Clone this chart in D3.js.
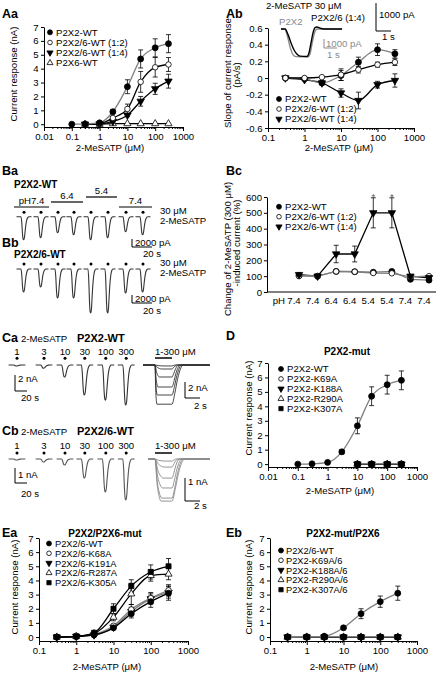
<!DOCTYPE html>
<html><head><meta charset="utf-8">
<script src="https://cdn.jsdelivr.net/npm/d3@7"></script>
<style>
body{margin:0;background:#fff}
svg{display:block}
text{font-family:"Liberation Sans",Arial,sans-serif;font-size:9.6px;fill:#000}
</style></head><body>
<script>
// ================= DATA =================
// --- Aa: concentration-response
const aaXTicks=[0.01,0.1,1,10,100,1000], aaXLabels=["0.01","0.1","1","10","100","1000"];
const aaYTicks=[0,1,2,3,4,5,6,7], aaYLabels=["0","1","2","3","4","5","6","7"];
const aaConcWT=[0.1,0.3,1,3,10,30,100,300];
const aaWT=[0,0.02,0.1,0.9,2.7,4.7,5.5,5.8];
const aaWTErr=[0,0,0.05,0.15,0.5,0.65,0.65,0.65];
const aaConc=[0.3,1,3,10,30,100,300];
const aa12=[0,0.05,0.45,1.1,3.05,4.1,4.3];
const aa12Err=[0,0,0.1,0.35,0.75,0.7,0.5];
const aa14=[0,0.02,0.2,0.65,1.65,2.55,3.1];
const aa14Err=[0,0,0.05,0.1,0.35,0.4,0.5];
const aaX6=[0,0,0.04,0.04,0.04,0.04,0.04];
const aaNames=["P2X2-WT","P2X2/6-WT (1:2)","P2X2/6-WT (1:4)","P2X6-WT"];

// --- Ab: slope of current
const abXTicks=[0.1,1,10,100,1000], abXLabels=["0.1","1","10","100","1000"];
const abYTicks=[-0.6,-0.4,-0.2,0,0.2,0.4,0.6], abYLabels=["-0.6","-0.4","-0.2","0","0.2","0.4","0.6"];
const abConc=[0.3,1,3,10,30,100,300];
const abWT=[0,-0.01,-0.06,0.03,0.19,0.34,0.29];
const abWTErr=[0,0.01,0.02,0.06,0.06,0.07,0.05];
const ab12=[0,0,0.01,0.04,0.1,0.16,0.19];
const ab12Err=[0,0,0,0.07,0.04,0.03,0.04];
const ab14=[0,-0.02,-0.06,-0.18,-0.27,-0.08,-0.03];
const ab14Err=[0,0.01,0.01,0.05,0.1,0.04,0.08];
const abNames=["P2X2-WT","P2X2/6-WT (1:2)","P2X2/6-WT (1:4)"];
// inset traces (time s, fraction of peak)
const insGrayAmp=-3100, insBlackAmp=-1000; // pA
const insGrayShape=[[0,0],[0.3,0],[0.46,0.2],[0.7,0.65],[0.92,0.92],[1.15,0.99],[2.08,1],[2.23,0.9],[2.38,0.55],[2.54,0.2],[2.7,0.02],[2.85,0],[4.7,0]];
const insBlackShape=[[0,0],[0.27,0],[0.47,0.2],[0.67,0.5],[0.87,0.75],[1.07,0.9],[1.27,0.97],[1.73,0.98],[1.87,0.85],[2.0,0.5],[2.13,0.15],[2.27,-0.05],[2.4,-0.07],[2.6,-0.03],[2.87,0],[4.07,0]];

// --- Ba / Bb: traces
const bTimes=[0,17,34,50,67,84,102,119]; // s
const baAmp=[-5750,-5250,-4000,-4500,-5750,-5250,-3750,-4500]; // pA
const bbAmp=[-5750,-4500,-7250,-7250,-11000,-11000,-6000,-5750];
const phLevels=[7.4,6.4,5.4,7.4], phLabels=["pH7.4","6.4","5.4","7.4"];
const phStart=[-10,27,62,95], phEnd=[25,59,93,128];
// normalized single-response waveform (fraction of sweep, fraction of peak)
const pulseShape=[[-0.5,0],[-0.2,0],[-0.15,0.25],[-0.1,0.75],[-0.06,0.97],[-0.02,1],[0.03,0.9],[0.08,0.6],[0.13,0.33],[0.19,0.13],[0.26,0.03],[0.33,0],[0.5,0]];

// --- Bc
const bcPH=["7.4","7.4","6.4","6.4","5.4","5.4","7.4","7.4"];
const bcYTicks=[0,100,200,300,400,500,600];
const bcWT=[105,100,130,128,125,130,80,75];
const bc12=[100,100,130,128,120,118,95,100];
const bc14=[110,100,240,240,500,500,100,90];
const bc14Err=[10,5,55,50,95,95,10,10];
const bcSig=["","","","","*","*","",""];

// --- Ca / Cb
const cConcLabels=["1","3","10","30","100","300"];
const cTimes=[0,45,80,113,148,182]; // s
const caAmp=[-0.12,-0.4,-1.5,-3.75,-4.4,-5.0]; // nA
const cbAmp=[-0.07,-0.2,-0.4,-1.27,-2.2,-2.73];
const caOvAmp=[-0.12,-0.5,-1.5,-2.75,-3.75,-4.9];
const caOvRise=[1.2,0.9,0.6,0.4,0.3,0.25], caOvOff=[0.5,0.7,0.9,1.1,1.3,1.5];
const cbOvAmp=[-0.09,-0.35,-0.83,-1.26,-1.7,-1.83];
const cbOvRise=[1.3,1.2,1.1,1.0,0.9,0.8], cbOvOff=[0.6,0.8,1.0,1.3,1.5,1.7];

// --- D
const dConc=[0.1,0.3,1,3,10,30,100,300];
const dWT=[0,0.02,0.12,0.85,2.65,4.7,5.5,5.8];
const dWTErr=[0,0,0.03,0.15,0.55,0.65,0.65,0.65];
const dMutConc=[10,30,100,300];
const dK69A=[0,0,0,0], dK188A=[0,0,0,0], dR290A=[0,0,0,0], dK307A=[0,0,0,0];
const dNames=["P2X2-WT","P2X2-K69A","P2X2-K188A","P2X2-R290A","P2X2-K307A"];

// --- Ea
const eXTicks=[0.1,1,10,100,1000], eXLabels=["0.1","1","10","100","1000"];
const eConc=[0.3,1,3,10,30,100,300];
const eaWT=[0,0.03,0.15,0.65,1.65,2.5,3.1], eaWTErr=[0,0,0.03,0.08,0.3,0.4,0.5];
const eaK68A=[0,0.05,0.2,0.8,1.95,2.75,3.3], eaK68AErr=[0,0,0.03,0.1,0.35,0.4,0.4];
const eaK191A=[0,0.04,0.15,0.7,1.8,2.7,3.15], eaK191AErr=[0,0,0.03,0.1,0.3,0.35,0.4];
const eaR287A=[0,0.05,0.25,1.4,3.05,4.35,4.45], eaR287AErr=[0,0,0.05,0.25,0.75,0.4,0.4];
const eaK305A=[0,0.05,0.3,2.0,3.6,4.6,5.0], eaK305AErr=[0,0,0.05,0.35,0.45,0.5,0.55];
const eaNames=["P2X2/6-WT","P2X2/6-K68A","P2X2/6-K191A","P2X2/6-R287A","P2X2/6-K305A"];

// --- Eb
const ebWT=[0,0.02,0.05,0.65,1.65,2.5,3.1], ebWTErr=[0,0,0,0.06,0.35,0.4,0.5];
const ebK69A=[0,0,0,0,0,0,0], ebK188A=[0,0,0,0,0,0,0], ebR290A=[0,0,0,0,0,0,0], ebK307A=[0,0,0,0,0,0,0];
const ebNames=["P2X2/6-WT","P2X2-K69A/6","P2X2-K188A/6","P2X2-R290A/6","P2X2-K307A/6"];

// ================= DRAWING =================
const svg=d3.select("body").append("svg").attr("width",448).attr("height",673);
const GRAY="#7f7f7f", TRACE="#333";

function T(x,y,s,o={}){const t=svg.append("text").attr("x",x).attr("y",y).text(s);
  if(o.a)t.attr("text-anchor",o.a); if(o.b)t.attr("font-weight","bold");
  if(o.fs)t.style("font-size",o.fs+"px"); if(o.c)t.style("fill",o.c);
  if(o.r)t.attr("transform",`rotate(-90 ${x} ${y})`); return t;}
function L(x1,y1,x2,y2,c="#000",w=1){return svg.append("line").attr("x1",x1).attr("y1",y1).attr("x2",x2).attr("y2",y2).attr("stroke",c).attr("stroke-width",w);}

const SYM={fc:{t:d3.symbolCircle,f:"#000",r:0},oc:{t:d3.symbolCircle,f:"#fff",r:0},
  ft:{t:d3.symbolTriangle,f:"#000",r:180},ot:{t:d3.symbolTriangle,f:"#fff",r:0},fs:{t:d3.symbolSquare,f:"#000",r:0}};
const SIZE={fc:28,oc:24,ft:24,ot:22,fs:26};
function marker(g,k,x,y,scale=1){const s=SYM[k];
  g.append("path").attr("d",d3.symbol().type(s.t).size(SIZE[k]*scale)())
   .attr("transform",`translate(${x},${y}) rotate(${s.r})`).attr("fill",s.f).attr("stroke","#000").attr("stroke-width",0.8);}

function isIn(arr,d){return arr.findIndex(m=>Math.abs(m-d)/Math.abs(m)<1e-6);}
function xLogAxis(x,y0,ticks,labels){
  const ax=d3.axisBottom(x).tickValues(x.ticks()).tickSize(4).tickSizeOuter(0).tickPadding(2.2)
    .tickFormat(d=>{const i=isIn(ticks,d);return i>=0?labels[i]:"";});
  const g=svg.append("g").attr("transform",`translate(0,${y0})`).call(ax);
  g.selectAll(".tick line").attr("y2",d=>isIn(ticks,d)>=0?4:2).attr("stroke","#000");
  g.select(".domain").attr("stroke","#000");}
function yAxis(y,x0,ticks,labels,pad=2.5){
  const ax=d3.axisLeft(y).tickValues(ticks).tickSize(3).tickSizeOuter(0).tickPadding(pad).tickFormat((d,i)=>labels[i]);
  const g=svg.append("g").attr("transform",`translate(${x0},0)`).call(ax);
  g.selectAll(".tick line").attr("stroke","#000"); g.select(".domain").attr("stroke","#000");}

function seriesPlot(x,y,series){
  const g=svg.append("g");
  series.forEach(s=>{ if(!s.line) return;
    const pts=s.conc.map((c,i)=>[x(c),y(s.v[i])]);
    g.append("path").attr("d",d3.line().curve(s.linear?d3.curveLinear:d3.curveMonotoneX)(pts))
     .attr("fill","none").attr("stroke",s.line).attr("stroke-width",1.3);});
  series.forEach(s=>{ if(!s.e) return;
    s.conc.forEach((c,i)=>{const e=s.e[i]; if(!e) return; const cx=x(c);
      g.append("line").attr("x1",cx).attr("x2",cx).attr("y1",y(s.v[i]-e)).attr("y2",y(s.v[i]+e)).attr("stroke","#000").attr("stroke-width",0.8);
      [s.v[i]-e,s.v[i]+e].forEach(v=>g.append("line").attr("x1",cx-2.5).attr("x2",cx+2.5).attr("y1",y(v)).attr("y2",y(v)).attr("stroke","#000").attr("stroke-width",0.8));});});
  series.forEach(s=>s.conc.forEach((c,i)=>marker(g,s.k,x(c),y(s.v[i]))));
}
function legend(mx,tx,y0,dy,kinds,names,fs){
  const g=svg.append("g");
  names.forEach((n,i)=>{marker(g,kinds[i],mx,y0+i*dy,0.7); const t=T(tx,y0+i*dy+3.4,n); if(fs)t.style("font-size",fs+"px");});}

// ---------- Aa ----------
T(2,18,"Aa",{b:1,fs:12.5});
const aaX=d3.scaleLog().domain([0.01,1000]).range([44,183]);
const aaY=d3.scaleLinear().domain([-0.2,7]).range([127,27]);
yAxis(aaY,44,aaYTicks,aaYLabels);
xLogAxis(aaX,127,aaXTicks,aaXLabels);
seriesPlot(aaX,aaY,[
  {conc:aaConc,v:aaX6,k:"ot",line:"#000"},
  {conc:aaConc,v:aa14,e:aa14Err,k:"ft",line:"#000"},
  {conc:aaConc,v:aa12,e:aa12Err,k:"oc",line:"#000"},
  {conc:aaConcWT,v:aaWT,e:aaWTErr,k:"fc",line:GRAY}]);
legend(50,56,32.3,10.2,["fc","oc","ft","ot"],aaNames);
T(16.5,74,"Current response (nA)",{a:"middle",r:1});
T(110,150.5,"2-MeSATP (μM)",{a:"middle"});

// ---------- Ab ----------
T(226,18,"Ab",{b:1,fs:12.5});
const abX=d3.scaleLog().domain([0.1,1000]).range([268,414]);
const abY=d3.scaleLinear().domain([-0.6,0.6]).range([128,28]);
yAxis(abY,268,abYTicks,abYLabels);
xLogAxis(abX,128,abXTicks,abXLabels);
seriesPlot(abX,abY,[
  {conc:abConc,v:ab14,e:ab14Err,k:"ft",line:"#000"},
  {conc:abConc,v:abWT,e:abWTErr,k:"fc",line:GRAY},
  {conc:abConc,v:ab12,e:ab12Err,k:"oc",line:"#000"}]);
legend(279,285,99,10,["fc","oc","ft"],abNames);
T(230.5,73,"Slope of current response",{a:"middle",r:1});
T(240,75,"(pA/s)",{a:"middle",r:1});
T(339,150.5,"2-MeSATP (μM)",{a:"middle"});
// inset
T(266,8.5,"2-MeSATP 30 μM");
const insGT=d3.scaleLinear().domain([0,1]).range([281,294]);
const insBT=d3.scaleLinear().domain([0,1]).range([281,296]);
const insGY=d3.scaleLinear().domain([0,-1000]).range([29,38]);
const insBY=d3.scaleLinear().domain([0,-1000]).range([29,57]);
svg.append("path").attr("d",d3.line().curve(d3.curveMonotoneX)(insGrayShape.map(p=>[insGT(p[0]),insGY(p[1]*insGrayAmp)])))
  .attr("fill","none").attr("stroke","#8a8a8a").attr("stroke-width",1.4);
svg.append("path").attr("d",d3.line().curve(d3.curveMonotoneX)(insBlackShape.map(p=>[insBT(p[0]),insBY(p[1]*insBlackAmp)])))
  .attr("fill","none").attr("stroke","#000").attr("stroke-width",1.4);
T(279,25,"P2X2",{c:"#8a8a8a"});
T(311,20.5,"P2X2/6 (1:4)");
// black scale bar
L(376,31-(insBY(-1000)-insBY(0)),376,31);
L(376,31,376+insBT(1)-insBT(0),31);
T(379,18,"1000 pA"); T(382,39.5,"1 s");
// gray scale bar
L(324,48-(insGY(-1000)-insGY(0)),324,48,"#8a8a8a"); L(324,48,324+insGT(1)-insGT(0),48,"#8a8a8a");
T(326,46.5,"1000 pA",{c:"#8a8a8a"}); T(327,58,"1 s",{c:"#8a8a8a"});

// ---------- Ba / Bb ----------
T(2,175,"Ba",{b:1,fs:12.5});
T(2,247,"Bb",{b:1,fs:12.5});
T(14,188,"P2X2-WT",{b:1,fs:10});
T(14,257.5,"P2X2/6-WT",{b:1,fs:10});
const bT=d3.scaleLinear().domain([0,20]).range([24,44]);
const phY=d3.scaleLinear().domain([5.4,7.4]).range([197,207]);
phLevels.forEach((p,i)=>{L(bT(phStart[i]),phY(p),bT(phEnd[i]),phY(p),"#000",1.2);
  T((bT(phStart[i])+bT(phEnd[i]))/2,phY(p)-3,phLabels[i],{a:"middle"});});
function pulseTrace(xs,ys,t0,amp,seg,color){
  svg.append("path").attr("d",d3.line().curve(d3.curveMonotoneX)(pulseShape.map(p=>[xs(t0+p[0]*seg),ys(p[1]*amp)])))
   .attr("fill","none").attr("stroke",color).attr("stroke-width",1.1);}
const baY=d3.scaleLinear().domain([0,-2000]).range([216.7,224.7]);
const bbY=d3.scaleLinear().domain([0,-2000]).range([269,277]);
bTimes.forEach((t,i)=>{
  pulseTrace(bT,baY,t,baAmp[i],15,TRACE); svg.append("circle").attr("cx",bT(t)).attr("cy",212.3).attr("r",1.5);
  pulseTrace(bT,bbY,t,bbAmp[i],15,TRACE); svg.append("circle").attr("cx",bT(t)).attr("cy",264).attr("r",1.5);});
T(160,213.5,"30 μM"); T(160,223.5,"2-MeSATP");
T(160,266,"30 μM"); T(160,276,"2-MeSATP");
// scale bars
[[247,246,257],[303,302,314]].forEach(([b,t1,t2])=>{
  L(132,b-(baY(-2000)-baY(0)),132,b); L(132,b,132+bT(20)-bT(0),b);
  T(135,t1,"2000 pA"); T(143,t2,"20 s");});

// ---------- Bc ----------
T(226,175,"Bc",{b:1,fs:12.5});
const bcX=d3.scalePoint().domain(d3.range(8)).range([299,429]);
const bcLab=d3.scalePoint().domain(d3.range(8)).range([294,424]);
const bcY=d3.scaleLinear().domain([0,600]).range([292,197]);
yAxis(bcY,267,bcYTicks,bcYTicks.map(String),2);
L(267,292,436,292);
bcPH.forEach((p,i)=>T(bcLab(i),304,p,{a:"middle"}));
T(bcLab(0)-9,304,"pH",{a:"end"});
{
  const g=svg.append("g"); const idx=d3.range(8);
  const ln=(v,c)=>g.append("path").attr("d",d3.line()(idx.map(i=>[bcX(i),bcY(v[i])]))).attr("fill","none").attr("stroke",c).attr("stroke-width",1.3);
  ln(bc14,"#000"); ln(bc12,GRAY); ln(bcWT,GRAY);
  idx.forEach(i=>{const cx=bcX(i),e=bc14Err[i];
    L(cx,bcY(bc14[i]-e),cx,bcY(bc14[i]+e),"#000",0.8);
    L(cx-2.5,bcY(bc14[i]-e),cx+2.5,bcY(bc14[i]-e),"#000",0.8);
    L(cx-2.5,bcY(bc14[i]+e),cx+2.5,bcY(bc14[i]+e),"#000",0.8);
    if(bcSig[i]) T(cx,bcY(bc14[i]+e)+2,bcSig[i],{a:"middle",c:"#555"});});
  idx.forEach(i=>{marker(g,"fc",bcX(i),bcY(bcWT[i])); marker(g,"oc",bcX(i),bcY(bc12[i])); marker(g,"ft",bcX(i),bcY(bc14[i]));});
}
legend(279,285,206.7,10,["fc","oc","ft"],abNames);
T(230.5,249,"Change of 2-MeSATP (300 μM)",{a:"middle",r:1});
T(240,243,"-induced current (%)",{a:"middle",r:1});

// ---------- Ca / Cb ----------
T(2,341.7,"Ca",{b:1,fs:12.5}); T(21,341.7,"2-MeSATP"); T(77,341.7,"P2X2-WT",{b:1,fs:11});
T(2,435,"Cb",{b:1,fs:12.5}); T(21,435,"2-MeSATP"); T(77,435,"P2X2/6-WT",{b:1,fs:11});
const cT=d3.scaleLinear().domain([0,20]).range([17,29]);
const caY=d3.scaleLinear().domain([0,-2]).range([365,381]);
const cbY=d3.scaleLinear().domain([0,-1]).range([459,474]);
cTimes.forEach((t,i)=>{
  T(cT(t),355,cConcLabels[i],{a:"middle"}); svg.append("circle").attr("cx",cT(t)).attr("cy",358.3).attr("r",1.5);
  pulseTrace(cT,caY,t,caAmp[i],28,TRACE);
  T(cT(t),449,cConcLabels[i],{a:"middle"}); svg.append("circle").attr("cx",cT(t)).attr("cy",453).attr("r",1.5);
  pulseTrace(cT,cbY,t,cbAmp[i],28,"#555");});
// left scale bars
L(15,391-(caY(-2)-caY(0)),15,391); L(15,391,15+cT(20)-cT(0),391); T(18,382,"2 nA"); T(21,401,"20 s");
L(15,483-(cbY(-1)-cbY(0)),15,483); L(15,483,15+cT(20)-cT(0),483); T(18,478,"1 nA"); T(21,497,"20 s");
// overlays
function overlay(xs,ys,amps,rise,off,tStart,tEnd,tw,color){
  amps.forEach((a,i)=>{const r=rise[i],d=off[i];
    const shape=[[tStart,0],[0,0],[0.35*r,0.6],[0.7*r,0.9],[r,1],[tw,1],[tw+0.25*d,0.72],[tw+0.5*d,0.35],[tw+0.75*d,0.1],[tw+d,0],[tEnd,0]];
    svg.append("path").attr("d",d3.line().curve(d3.curveMonotoneX)(shape.map(p=>[xs(p[0]),ys(p[1]*a)])))
      .attr("fill","none").attr("stroke",color).attr("stroke-width",0.9);});}
const caOvT=d3.scaleLinear().domain([0,2]).range([155,170]);
const caOvY=d3.scaleLinear().domain([0,-2]).range([365,381]);
const cbOvY=d3.scaleLinear().domain([0,-1]).range([459,482]);
overlay(caOvT,caOvY,caOvAmp,caOvRise,caOvOff,-1.6,7.3,2.27,TRACE);
overlay(caOvT,cbOvY,cbOvAmp,cbOvRise,cbOvOff,-0.93,7.3,2.27,"#8a8a8a");
L(caOvT(0),358,caOvT(2.27),358,"#000",1.5); T(155,355,"1-300 μM");
L(caOvT(0),453,caOvT(2.27),453,"#000",1.5); T(155,449,"1-300 μM");
L(185,398-(caOvY(-2)-caOvY(0)),185,398); L(185,398,185+caOvT(2)-caOvT(0),398); T(188,391,"2 nA"); T(194,409,"2 s");
L(185,501-(cbOvY(-1)-cbOvY(0)),185,501); L(185,501,185+caOvT(2)-caOvT(0),501); T(188,485,"1 nA"); T(194,508.5,"2 s");

// ---------- D ----------
T(226,340,"D",{b:1,fs:12.5});
T(347,355,"P2X2-mut",{a:"middle",b:1,fs:10});
const dX=d3.scaleLog().domain([0.01,1000]).range([268,417]);
const dY=d3.scaleLinear().domain([-0.2,7]).range([467,363]);
yAxis(dY,268,aaYTicks,aaYLabels);
xLogAxis(dX,467,aaXTicks,aaXLabels);
seriesPlot(dX,dY,[
  {conc:dMutConc,v:dK69A,k:"oc",line:"#000",linear:1},
  {conc:dMutConc,v:dK188A,k:"ft"},
  {conc:dMutConc,v:dR290A,k:"ot"},
  {conc:dMutConc,v:dK307A,k:"fs"},
  {conc:dConc,v:dWT,e:dWTErr,k:"fc",line:GRAY},
  {conc:dMutConc,v:dK307A,k:"fc"}]);
legend(281,287,369,9.9,["fc","oc","ft","ot","fs"],dNames);
T(252,408,"Current response (nA)",{a:"middle",r:1});
T(340,494,"2-MeSATP (μM)",{a:"middle"});

// ---------- Ea ----------
T(2,537,"Ea",{b:1,fs:12.5});
T(105,536.5,"P2X2/P2X6-mut",{a:"middle",b:1,fs:10});
const eaX=d3.scaleLog().domain([0.1,1000]).range([39,188]);
const eY=d3.scaleLinear().domain([-0.28,7]).range([641,538]);
yAxis(eY,39,aaYTicks,aaYLabels);
xLogAxis(eaX,641,eXTicks,eXLabels);
seriesPlot(eaX,eY,[
  {conc:eConc,v:eaK191A,e:eaK191AErr,k:"ft",line:GRAY},
  {conc:eConc,v:eaK68A,e:eaK68AErr,k:"oc",line:GRAY},
  {conc:eConc,v:eaWT,e:eaWTErr,k:"fc",line:"#000"},
  {conc:eConc,v:eaR287A,e:eaR287AErr,k:"ot",line:"#000"},
  {conc:eConc,v:eaK305A,e:eaK305AErr,k:"fs",line:"#000"}]);
legend(49,55,543.5,9.8,["fc","oc","ft","ot","fs"],eaNames,9.3);
T(17.5,587,"Current response (nA)",{a:"middle",r:1});
T(107,670,"2-MeSATP (μM)",{a:"middle"});

// ---------- Eb ----------
T(226,537,"Eb",{b:1,fs:12.5});
T(343,536.5,"P2X2-mut/P2X6",{a:"middle",b:1,fs:10});
const ebX=d3.scaleLog().domain([0.1,1000]).range([270,417]);
yAxis(eY,270,aaYTicks,aaYLabels);
xLogAxis(ebX,641,eXTicks,eXLabels);
seriesPlot(ebX,eY,[
  {conc:eConc,v:ebK69A,k:"oc",line:"#000",linear:1},
  {conc:eConc,v:ebK188A,k:"ft"},
  {conc:eConc,v:ebR290A,k:"ot"},
  {conc:eConc,v:ebK307A,k:"fs"},
  {conc:eConc,v:ebWT,e:ebWTErr,k:"fc",line:GRAY},
  {conc:eConc,v:ebK307A,k:"fc"}]);
legend(281,286,550.5,9.8,["fc","oc","ft","ot","fs"],ebNames,9.3);
T(251.5,587,"Current response (nA)",{a:"middle",r:1});
T(344,670,"2-MeSATP (μM)",{a:"middle"});
</script></body></html>
